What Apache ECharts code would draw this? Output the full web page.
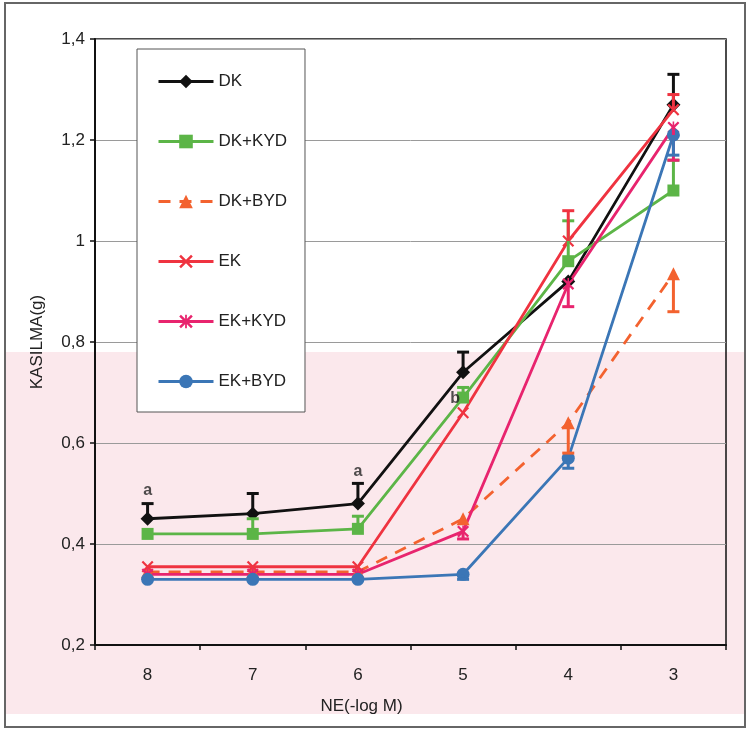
<!DOCTYPE html>
<html>
<head>
<meta charset="utf-8">
<script src="https://cdn.jsdelivr.net/npm/echarts@6/dist/echarts.min.js"></script>
<style>html,body{margin:0;padding:0;background:#fff}#c{width:747px;height:729px}</style>
</head>
<body>
<div id="c"></div>
<script>
const categories = ['8', '7', '6', '5', '4', '3'];
const yTicks = [0.2, 0.4, 0.6, 0.8, 1.0, 1.2, 1.4];

const DK      = [0.45, 0.46, 0.48, 0.74, 0.92, 1.27];
const DK_KYD  = [0.42, 0.42, 0.43, 0.69, 0.96, 1.10];
const DK_BYD  = [0.345, 0.345, 0.345, 0.45, 0.64, 0.935];
const EK      = [0.355, 0.355, 0.355, 0.66, 1.00, 1.26];
const EK_KYD  = [0.34, 0.34, 0.34, 0.425, 0.915, 1.225];
const EK_BYD  = [0.33, 0.33, 0.33, 0.34, 0.57, 1.21];

// error bar end points (null = none visible)
const DK_err     = [0.48, 0.50, 0.52, 0.78, null, 1.33];
const DK_KYD_err = [null, 0.45, 0.455, 0.71, 1.04, 1.16];
const DK_BYD_err = [null, null, null, null, 0.58, 0.86];
const EK_err     = [null, null, null, null, 1.06, 1.29];
const EK_KYD_err = [null, null, null, 0.41, 0.87, 1.16];
const EK_BYD_err = [null, null, null, 0.33, 0.55, 1.17];

const letters = [
  { cat: '8', y: 0.505, text: 'a', dx: 0 },
  { cat: '6', y: 0.543, text: 'a', dx: 0 },
  { cat: '5', y: 0.687, text: 'b', dx: -8 }
];

const XPATH = 'path://M0,1.3L1.3,0L5,3.7L8.7,0L10,1.3L6.3,5L10,8.7L8.7,10L5,6.3L1.3,10L0,8.7L3.7,5Z';
const STAR = 'path://M0,1.3L1.3,0L5,3.7L8.7,0L10,1.3L6.3,5L10,8.7L8.7,10L5,6.3L1.3,10L0,8.7L3.7,5Z M4.35,0L5.65,0L5.65,10L4.35,10Z';

const defs = [
  { name: 'DK', data: DK, err: DK_err, color: '#111111', symbol: 'diamond', size: 14, dash: 'solid' },
  { name: 'DK+KYD', data: DK_KYD, err: DK_KYD_err, color: '#5cb547', symbol: 'rect', size: 12, dash: 'solid' },
  { name: 'DK+BYD', data: DK_BYD, err: DK_BYD_err, color: '#f3622f', symbol: 'triangle', size: 13, dash: [12, 9] },
  { name: 'EK', data: EK, err: EK_err, color: '#ef3340', symbol: XPATH, size: 12, dash: 'solid' },
  { name: 'EK+KYD', data: EK_KYD, err: EK_KYD_err, color: '#e8246e', symbol: STAR, size: 12, dash: 'solid' },
  { name: 'EK+BYD', data: EK_BYD, err: EK_BYD_err, color: '#3b76b6', symbol: 'circle', size: 13, dash: 'solid' }
];

const series = [];
defs.forEach(d => {
  series.push({
    name: d.name, type: 'line', data: d.data,
    symbol: d.symbol, symbolSize: d.size, showAllSymbol: true,
    lineStyle: { color: d.color, width: 2.8, type: d.dash },
    itemStyle: { color: d.color, borderWidth: 0 },
    emphasis: { disabled: true },
    z: 3
  });
  const errData = [];
  d.err.forEach((e, i) => { if (e !== null) errData.push([i, d.data[i], e]); });
  series.push({
    name: d.name + '_err', type: 'custom', data: errData,
    encode: { x: 0, y: [1, 2] },
    renderItem: function (params, api) {
      const p0 = api.coord([api.value(0), api.value(1)]);
      const p1 = api.coord([api.value(0), api.value(2)]);
      const w = 6;
      const st = { stroke: d.color, lineWidth: 3 };
      return {
        type: 'group', children: [
          { type: 'line', shape: { x1: p0[0], y1: p0[1], x2: p1[0], y2: p1[1] }, style: st },
          { type: 'line', shape: { x1: p1[0] - w, y1: p1[1], x2: p1[0] + w, y2: p1[1] }, style: st }
        ]
      };
    },
    z: 4, silent: true
  });
});

series.push({
  name: 'labels', type: 'scatter',
  data: letters.map(l => ({ value: [l.cat, l.y], label: { offset: [l.dx, 0], formatter: l.text } })),
  symbolSize: 1, itemStyle: { color: 'rgba(0,0,0,0)' },
  label: { show: true, position: 'inside', color: '#222', fontWeight: 'bold', fontSize: 16, fontFamily: 'Liberation Sans' },
  z: 6, silent: true
});

const chart = echarts.init(document.getElementById('c'));
chart.setOption({
  animation: false,
  backgroundColor: '#ffffff',
  textStyle: { fontFamily: 'Liberation Sans' },
  graphic: [
    { type: 'rect', z: -100, shape: { x: 5, y: 352, width: 740, height: 362 }, style: { fill: '#fbe8ec' } },
    { type: 'rect', z: 100, shape: { x: 5, y: 3, width: 740, height: 724 }, style: { fill: 'none', stroke: '#666', lineWidth: 2 } }
  ],
  grid: { left: 95, right: 21, top: 39, bottom: 84, show: true, borderColor: '#111', borderWidth: 1.5, backgroundColor: 'transparent' },
  legend: {
    orient: 'vertical', left: 137, top: 49,
    padding: [24, 18, 22, 20], itemGap: 43, itemWidth: 55, itemHeight: 17,
    borderColor: '#555', borderWidth: 1, backgroundColor: '#fff',
    data: defs.map(d => d.name),
    lineStyle: { width: 3 },
    textStyle: { fontSize: 17, color: '#222', fontFamily: 'Liberation Sans' },
    selectedMode: false
  },
  xAxis: {
    type: 'category', data: categories, boundaryGap: true,
    name: 'NE(-log M)', nameLocation: 'middle', nameGap: 53,
    nameTextStyle: { fontSize: 17, color: '#222', padding: [0, 98, 0, 0] },
    axisLine: { lineStyle: { color: '#111', width: 2 } },
    axisTick: { show: true, length: 5, lineStyle: { color: '#111', width: 1.5 } },
    axisLabel: { fontSize: 17, color: '#222', margin: 22 },
    splitLine: { show: false }
  },
  yAxis: {
    type: 'value', min: 0.2, max: 1.4, interval: 0.2,
    name: 'KASILMA(g)', nameLocation: 'middle', nameGap: 49,
    nameTextStyle: { fontSize: 17, color: '#222' },
    axisLine: { show: true, lineStyle: { color: '#111', width: 2 } },
    axisTick: { show: true, length: 5, lineStyle: { color: '#111', width: 1.5 } },
    axisLabel: { fontSize: 17, color: '#222', margin: 10,
      formatter: v => String(Math.round(v * 10) / 10).replace('.', ',') },
    splitLine: { show: true, lineStyle: { color: '#9a9a9a', width: 1 } }
  },
  series: series
});
</script>
</body>
</html>
